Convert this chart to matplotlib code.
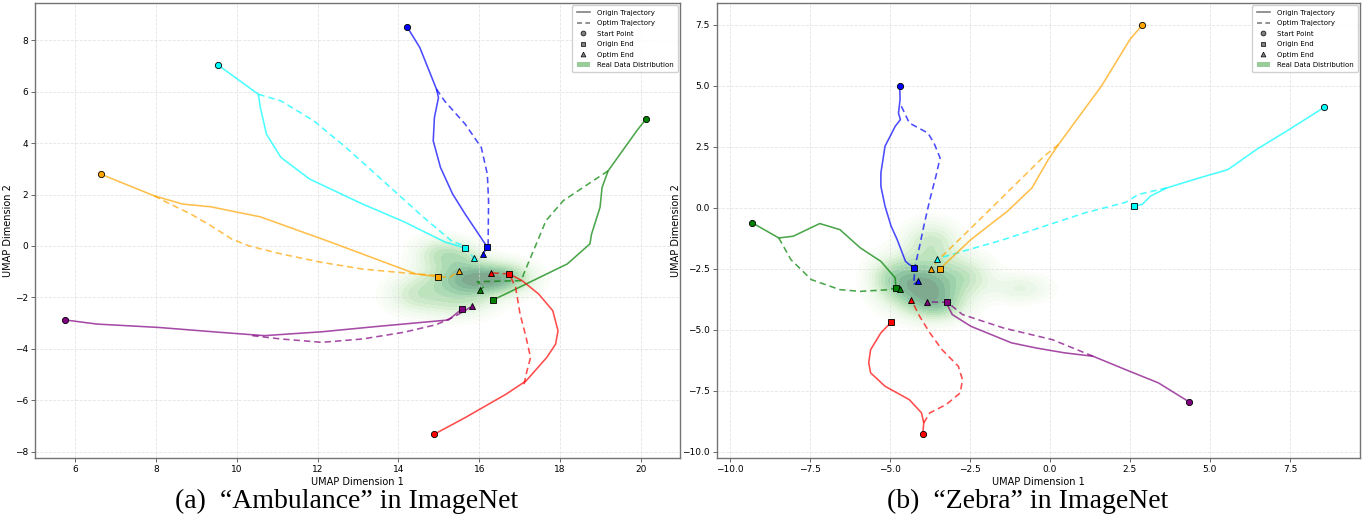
import numpy as np
import matplotlib
matplotlib.use("Agg")
import matplotlib.pyplot as plt
from matplotlib.lines import Line2D
from matplotlib.patches import Patch
from matplotlib.colors import ListedColormap

# ---------------- Panel (a): "Ambulance" ----------------
a_colors = ["blue", "cyan", "orange", "green", "red", "purple"]

a_blue_orig_x = [14.21, 14.53, 14.94, 14.99, 14.89, 14.86, 15.04, 15.34, 15.65, 16.2]
a_blue_orig_y = [8.53, 7.71, 6.10, 5.77, 5.0, 4.09, 3.05, 2.02, 1.24, -0.05]
a_blue_opt_x = [14.94, 15.14, 15.65, 16.05, 16.2, 16.23, 16.22, 16.22, 16.08]
a_blue_opt_y = [6.10, 5.64, 4.74, 3.83, 2.79, 1.76, 0.2, -0.05, -0.31]

a_cyan_orig_x = [9.53, 10.53, 10.58, 10.73, 11.09, 11.8, 13.11, 14.15, 15.14, 15.65]
a_cyan_orig_y = [7.04, 5.9, 5.38, 4.35, 3.44, 2.6, 1.63, 0.93, 0.16, -0.09]
a_cyan_opt_x = [10.53, 11.09, 11.9, 12.7, 13.62, 14.63, 15.34, 15.65, 15.86]
a_cyan_opt_y = [5.9, 5.64, 4.87, 3.83, 2.53, 1.1, 0.16, 0.0, -0.48]

a_orange_orig_x = [6.63, 7.95, 8.65, 9.36, 10.58, 12.3, 14.43, 14.97]
a_orange_orig_y = [2.79, 1.95, 1.63, 1.52, 1.13, 0.16, -1.09, -1.2]
a_orange_opt_x = [7.95, 8.36, 8.86, 9.36, 9.87, 10.3, 11.09, 12.1, 13.11, 14.43, 14.97, 15.25, 15.5]
a_orange_opt_y = [1.95, 1.62, 1.24, 0.78, 0.27, 0.0, -0.31, -0.64, -0.9, -1.09, -1.15, -1.25, -0.96]

a_green_orig_x = [20.12, 19.9, 19.19, 19.04, 18.99, 18.78, 18.74, 18.18, 17.16, 16.65, 16.35]
a_green_orig_y = [4.92, 4.48, 2.92, 2.27, 1.5, 0.46, 0.08, -0.7, -1.48, -1.87, -2.09]
a_green_opt_x = [19.19, 18.69, 18.08, 17.65, 17.45, 17.1, 17.05, 15.95, 16.1, 16.03]
a_green_opt_y = [2.92, 2.4, 1.76, 0.98, 0.22, -1.09, -1.35, -1.39, -1.6, -1.72]

a_red_orig_x = [14.89, 15.65, 16.66, 17.16, 17.67, 17.89, 17.95, 17.82, 17.47, 17.06, 16.74]
a_red_orig_y = [-7.32, -6.68, -5.77, -5.25, -4.34, -3.82, -3.3, -2.52, -1.87, -1.35, -1.09]
a_red_opt_x = [17.11, 17.16, 17.27, 17.16, 17.01, 16.9, 16.74, 16.3]
a_red_opt_y = [-5.38, -4.99, -4.34, -3.56, -2.65, -1.61, -1.09, -1.05]

a_purple_orig_x = [5.75, 6.53, 8.05, 9.57, 10.68, 12.1, 13.42, 15.24, 15.57]
a_purple_orig_y = [-2.88, -3.04, -3.17, -3.36, -3.49, -3.34, -3.14, -2.88, -2.45]
a_purple_opt_x = [10.38, 11.09, 12.1, 13.11, 14.13, 14.94, 15.34, 15.65, 15.83]
a_purple_opt_y = [-3.49, -3.62, -3.75, -3.62, -3.36, -3.06, -2.78, -2.52, -2.32]

# density blobs: centre x, centre y, spread x, spread y, weight
a_blob_x = [15.9, 15.0, 14.4, 15.5, 16.7, 15.6]
a_blob_y = [-1.3, -0.3, -1.9, -2.2, -1.2, -0.4]
a_blob_sx = [0.75, 0.45, 0.5, 0.6, 0.45, 0.4]
a_blob_sy = [0.45, 0.45, 0.5, 0.45, 0.4, 0.4]
a_blob_w = [1.0, 0.45, 0.4, 0.4, 0.35, 0.3]

# ---------------- Panel (b): "Zebra" ----------------
b_blue_orig_x = [-4.69, -4.68, -4.73, -4.67, -4.83, -5.15, -5.28, -5.28, -5.15, -4.96, -4.77, -4.51, -4.39, -4.23]
b_blue_orig_y = [4.99, 4.44, 3.89, 3.62, 3.35, 2.53, 1.43, 0.89, 0.07, -0.75, -1.3, -2.19, -2.32, -2.47]
b_blue_opt_x = [-4.64, -4.39, -3.81, -3.62, -3.43, -3.56, -3.75, -3.94, -4.07, -4.2, -4.26, -4.11]
b_blue_opt_y = [4.17, 3.48, 3.07, 2.66, 2.05, 1.3, 0.34, -0.75, -1.57, -2.32, -3.14, -3.0]

b_cyan_orig_x = [8.58, 7.47, 6.45, 5.56, 4.67, 3.65, 3.14, 2.88, 2.63]
b_cyan_orig_y = [4.13, 3.21, 2.39, 1.57, 1.23, 0.82, 0.48, 0.14, 0.07]
b_cyan_opt_x = [3.65, 2.76, 2.37, 1.1, -1.45, -3.52]
b_cyan_opt_y = [0.82, 0.55, 0.23, -0.2, -1.3, -2.08]

b_orange_orig_x = [2.88, 2.5, 1.61, 0.84, 0.27, -0.05, -0.56, -1.33, -2.47, -3.43]
b_orange_orig_y = [7.49, 6.9, 4.99, 3.62, 2.6, 1.98, 0.82, -0.14, -1.3, -2.49]
b_orange_opt_x = [0.27, -0.18, -1.45, -2.6, -3.37, -3.72]
b_orange_opt_y = [2.6, 2.12, 0.48, -1.0, -1.98, -2.5]

b_green_orig_x = [-9.3, -8.47, -8.02, -7.19, -6.56, -5.92, -5.28, -4.83, -4.81]
b_green_orig_y = [-0.61, -1.23, -1.16, -0.64, -0.89, -1.64, -2.19, -2.87, -3.28]
b_green_opt_x = [-8.47, -8.09, -7.45, -6.56, -5.92, -5.03, -4.81, -4.68]
b_green_opt_y = [-1.23, -2.12, -2.94, -3.35, -3.42, -3.35, -3.28, -3.31]

b_red_orig_x = [-3.97, -3.94, -4.01, -4.39, -5.15, -5.6, -5.66, -5.6, -5.28, -4.96]
b_red_orig_y = [-9.26, -8.81, -8.4, -7.86, -7.31, -6.76, -6.35, -5.81, -5.12, -4.69]
b_red_opt_x = [-3.94, -3.75, -3.24, -2.8, -2.73, -2.86, -3.37, -3.75, -4.07, -4.33]
b_red_opt_y = [-8.81, -8.4, -8.06, -7.58, -7.04, -6.49, -5.81, -5.12, -4.44, -3.76]

b_purple_orig_x = [4.35, 3.39, 2.37, 1.35, 0.46, -0.43, -1.2, -2.47, -3.05, -3.18, -3.2]
b_purple_orig_y = [-7.95, -7.17, -6.63, -6.08, -5.94, -5.74, -5.53, -4.85, -4.37, -4.03, -3.87]
b_purple_opt_x = [1.35, 0.08, -1.45, -2.73, -3.2, -3.84]
b_purple_opt_y = [-6.08, -5.4, -4.92, -4.37, -3.87, -3.85]

b_blob_x = [-4.0, -3.7, -2.6, -0.9, -5.0, -3.4]
b_blob_y = [-3.2, -1.4, -2.8, -3.3, -2.8, -4.0]
b_blob_sx = [0.75, 0.6, 0.6, 0.65, 0.5, 0.6]
b_blob_sy = [0.75, 0.6, 0.6, 0.4, 0.6, 0.45]
b_blob_w = [1.0, 0.45, 0.4, 0.3, 0.35, 0.4]

a_traj = [
    (a_blue_orig_x, a_blue_orig_y, a_blue_opt_x, a_blue_opt_y),
    (a_cyan_orig_x, a_cyan_orig_y, a_cyan_opt_x, a_cyan_opt_y),
    (a_orange_orig_x, a_orange_orig_y, a_orange_opt_x, a_orange_opt_y),
    (a_green_orig_x, a_green_orig_y, a_green_opt_x, a_green_opt_y),
    (a_red_orig_x, a_red_orig_y, a_red_opt_x, a_red_opt_y),
    (a_purple_orig_x, a_purple_orig_y, a_purple_opt_x, a_purple_opt_y),
]
b_traj = [
    (b_blue_orig_x, b_blue_orig_y, b_blue_opt_x, b_blue_opt_y),
    (b_cyan_orig_x, b_cyan_orig_y, b_cyan_opt_x, b_cyan_opt_y),
    (b_orange_orig_x, b_orange_orig_y, b_orange_opt_x, b_orange_opt_y),
    (b_green_orig_x, b_green_orig_y, b_green_opt_x, b_green_opt_y),
    (b_red_orig_x, b_red_orig_y, b_red_opt_x, b_red_opt_y),
    (b_purple_orig_x, b_purple_orig_y, b_purple_opt_x, b_purple_opt_y),
]

# Greens colormap pre-blended with white (looks like alpha=0.5 without seams)
_g = plt.get_cmap("Greens")(np.linspace(0, 1, 256))
_g[:, :3] = 0.5 * _g[:, :3] + 0.5
soft_greens = ListedColormap(_g)

fig = plt.figure(figsize=(13.64, 5.19), dpi=100)
W, H = 1364, 519
ax1 = fig.add_axes([35 / W, (H - 458) / H, 645 / W, 455 / H])
ax2 = fig.add_axes([717 / W, (H - 458) / H, 643 / W, 455 / H])


def draw_density(ax, bx, by, bsx, bsy, bw, xlim, ylim):
    gx = np.linspace(xlim[0], xlim[1], 500)
    gy = np.linspace(ylim[0], ylim[1], 500)
    X, Y = np.meshgrid(gx, gy)
    Z = np.zeros_like(X)
    for cx, cy, sx, sy, w in zip(bx, by, bsx, bsy, bw):
        Z += w * np.exp(-0.5 * (((X - cx) / sx) ** 2 + ((Y - cy) / sy) ** 2))
    levels = Z.max() * np.linspace(0.15, 1.0, 14) ** 1.5
    ax.contourf(X, Y, Z, levels=levels, cmap=soft_greens, zorder=1)


def draw_panel(ax, traj, bx, by, bsx, bsy, bw, xlim, ylim, xticks, yticks, fmt):
    ax.set_xlim(*xlim)
    ax.set_ylim(*ylim)
    draw_density(ax, bx, by, bsx, bsy, bw, xlim, ylim)
    for (ox, oy, px, py), c in zip(traj, a_colors):
        ax.plot(ox, oy, color=c, lw=1.15, alpha=0.7, zorder=3)
        ax.plot(px, py, color=c, lw=1.15, alpha=0.7, ls="--", dashes=(4, 2.5), zorder=3)
        ax.plot(ox[0], oy[0], "o", color=c, mec="black", mew=0.6, ms=4.5, zorder=5)
        ax.plot(ox[-1], oy[-1], "s", color=c, mec="black", mew=0.6, ms=5, zorder=5)
        ax.plot(px[-1], py[-1], "^", color=c, mec="black", mew=0.6, ms=5, zorder=5)
    ax.set_xticks(xticks)
    ax.set_yticks(yticks)
    ax.set_xticklabels([fmt.format(v).replace("-", "\u2212") for v in xticks])
    ax.set_yticklabels([fmt.format(v).replace("-", "\u2212") for v in yticks])
    ax.tick_params(labelsize=6.5, length=3, width=0.6, color="0.3", pad=2)
    ax.set_axisbelow("line")
    ax.grid(True, ls="--", lw=0.6, color="0.85", alpha=0.7)
    for s in ax.spines.values():
        s.set_color("0.45")
        s.set_linewidth(1.0)
    ax.set_xlabel("UMAP Dimension 1", fontsize=7, labelpad=2)
    ax.set_ylabel("UMAP Dimension 2", fontsize=7, labelpad=1)
    handles = [
        Line2D([0], [0], color="gray", lw=1.2, label="Origin Trajectory"),
        Line2D([0], [0], color="gray", lw=1.2, ls="--", dashes=(3, 2), label="Optim Trajectory"),
        Line2D([0], [0], marker="o", color="gray", mec="black", mew=0.5, ms=3.5, ls="none", label="Start Point"),
        Line2D([0], [0], marker="s", color="gray", mec="black", mew=0.5, ms=3.5, ls="none", label="Origin End"),
        Line2D([0], [0], marker="^", color="gray", mec="black", mew=0.5, ms=3.5, ls="none", label="Optim End"),
        Patch(facecolor="green", alpha=0.4, label="Real Data Distribution"),
    ]
    ax.legend(handles=handles, loc="upper right", fontsize=5.0, frameon=True,
              framealpha=0.9, edgecolor="0.8", handlelength=2.0, borderpad=0.6,
              labelspacing=0.65, handletextpad=0.9, borderaxespad=0.35)


draw_panel(ax1, a_traj, a_blob_x, a_blob_y, a_blob_sx, a_blob_sy, a_blob_w,
           (5.0, 20.97), (-8.25, 9.45), [6, 8, 10, 12, 14, 16, 18, 20],
           [-8, -6, -4, -2, 0, 2, 4, 6, 8], "{:.0f}")
draw_panel(ax2, b_traj, b_blob_x, b_blob_y, b_blob_sx, b_blob_sy, b_blob_w,
           (-10.4, 9.69), (-10.25, 8.4), [-10.0, -7.5, -5.0, -2.5, 0.0, 2.5, 5.0, 7.5],
           [-10.0, -7.5, -5.0, -2.5, 0.0, 2.5, 5.0, 7.5], "{:.1f}")

fig.text(347 / W, 1 - 501 / H, "(a)  \u201cAmbulance\u201d in ImageNet",
         ha="center", va="center", fontsize=20, family="Liberation Serif")
fig.text(1028 / W, 1 - 501 / H, "(b)  \u201cZebra\u201d in ImageNet",
         ha="center", va="center", fontsize=20, family="Liberation Serif")

fig.savefig("out.png", dpi=100)
